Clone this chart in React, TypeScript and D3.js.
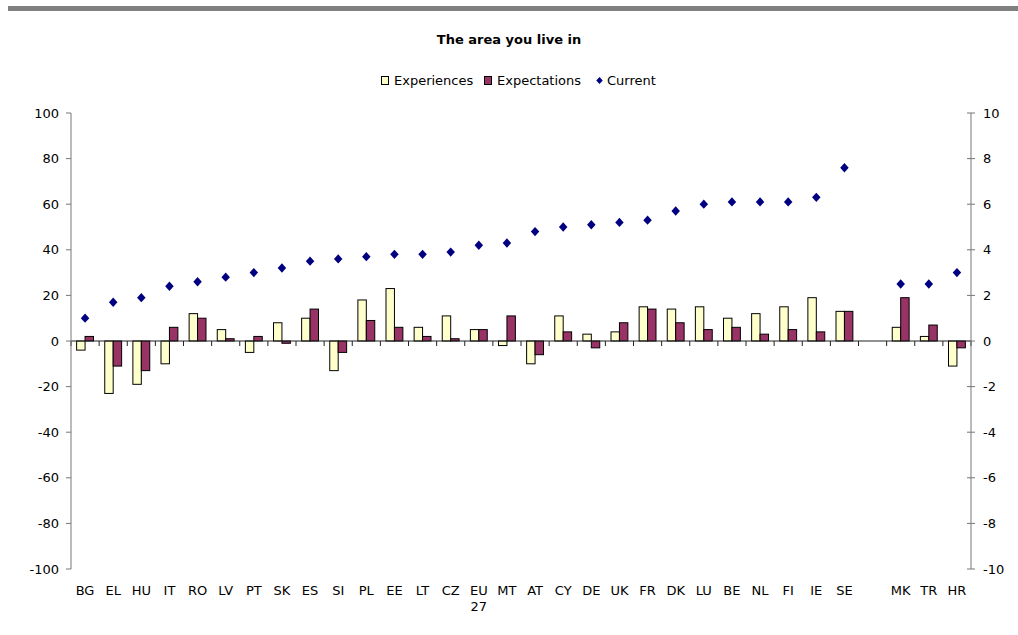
import React from "react";
import * as d3 from "d3";

const categories = ["BG","EL","HU","IT","RO","LV","PT","SK","ES","SI","PL","EE","LT","CZ","EU 27","MT","AT","CY","DE","UK","FR","DK","LU","BE","NL","FI","IE","SE","","MK","TR","HR"];
const experiences: (number | null)[] = [-4,-23,-19,-10,12,5,-5,8,10,-13,18,23,6,11,5,-2,-10,11,3,4,15,14,15,10,12,15,19,13,null,6,2,-11];
const expectations: (number | null)[] = [2,-11,-13,6,10,1,2,-1,14,-5,9,6,2,1,5,11,-6,4,-3,8,14,8,5,6,3,5,4,13,null,19,7,-3];
const current: (number | null)[] = [1.0,1.7,1.9,2.4,2.6,2.8,3.0,3.2,3.5,3.6,3.7,3.8,3.8,3.9,4.2,4.3,4.8,5.0,5.1,5.2,5.3,5.7,6.0,6.1,6.1,6.1,6.3,7.6,null,2.5,2.5,3.0];
const leftTicks = [100,80,60,40,20,0,-20,-40,-60,-80,-100];
const rightTicks = [10,8,6,4,2,0,-2,-4,-6,-8,-10];

const W = 1018, H = 635;
const left = 71, right = 971, top = 113, bottom = 569;
const FONT = "'DejaVu Sans', Verdana, sans-serif";

const wideDiamond = {
  draw(ctx: any, size: number) {
    const w = Math.sqrt(size) / 2;
    const h = w * 1.1;
    ctx.moveTo(0, -h);
    ctx.lineTo(w, 0);
    ctx.lineTo(0, h);
    ctx.lineTo(-w, 0);
    ctx.closePath();
  },
};

export default function App() {
  const x = d3.scaleBand<number>().domain(d3.range(categories.length)).range([left, right]).paddingInner(0).paddingOuter(0);
  const yL = d3.scaleLinear().domain([-100, 100]).range([bottom, top]);
  const yR = d3.scaleLinear().domain([-10, 10]).range([bottom, top]);
  const bw = x.bandwidth();
  const barW = bw * 0.3;
  const off = (bw - 2 * barW) / 2;
  const y0 = yL(0);
  const diamond = d3.symbol().type(wideDiamond as any).size(72)();
  const legDiamond = d3.symbol().type(wideDiamond as any).size(42)();

  return (
    <div style={{ position: "absolute", left: 0, top: 0 }}>
      <svg width={W} height={H} style={{ display: "block", background: "#fff" }}>
        <rect x={8} y={6} width={W - 8} height={5} fill="#808080" />
        <text x={509} y={44} textAnchor="middle" fontFamily={FONT} fontSize={13} fontWeight="bold" fill="#000">The area you live in</text>
        {/* legend */}
        <g fontFamily={FONT} fontSize={13} fill="#000">
          <rect x={381.5} y={76.5} width={7} height={8} fill="#FFFFCC" stroke="#000" />
          <text x={394} y={85}>Experiences</text>
          <rect x={484.5} y={76.5} width={7} height={8} fill="#993366" stroke="#000" />
          <text x={497} y={85}>Expectations</text>
          <path d={legDiamond || ""} transform="translate(599.5,80.5)" fill="#000080" />
          <text x={607} y={85}>Current</text>
        </g>
        {/* bars */}
        {categories.map((c, i) => {
          const e = experiences[i];
          const p = expectations[i];
          const bx = (x(i) as number) + off;
          return (
            <g key={"b" + i}>
              {e !== null && (
                <rect x={bx} y={Math.min(yL(e), y0)} width={barW} height={Math.abs(yL(e) - y0)} fill="#FFFFCC" stroke="#000" strokeWidth={1} />
              )}
              {p !== null && (
                <rect x={bx + barW} y={Math.min(yL(p), y0)} width={barW} height={Math.abs(yL(p) - y0)} fill="#993366" stroke="#000" strokeWidth={1} />
              )}
            </g>
          );
        })}
        {/* x axis */}
        <line x1={left} x2={right} y1={y0} y2={y0} stroke="#222" strokeWidth={1} />
        {categories.map((c, i) => (
          <line key={"xt" + i} x1={(x(i) as number) + bw} x2={(x(i) as number) + bw} y1={y0} y2={y0 + 5} stroke="#222" />
        ))}
        <line x1={left} x2={left} y1={y0} y2={y0 + 5} stroke="#222" />
        {/* left axis */}
        <line x1={left} x2={left} y1={top} y2={bottom} stroke="#777" />
        {leftTicks.map((t) => (
          <g key={"l" + t}>
            <line x1={left - 5} x2={left} y1={yL(t)} y2={yL(t)} stroke="#777" />
            <text x={59} y={yL(t) + 4.5} textAnchor="end" fontFamily={FONT} fontSize={13} fill="#000">{t}</text>
          </g>
        ))}
        {/* right axis */}
        <line x1={right} x2={right} y1={top} y2={bottom} stroke="#777" />
        {rightTicks.map((t) => (
          <g key={"r" + t}>
            <line x1={right - 4} x2={right + 4} y1={yR(t)} y2={yR(t)} stroke="#777" />
            <text x={983} y={yR(t) + 4.5} textAnchor="start" fontFamily={FONT} fontSize={13} fill="#000">{t}</text>
          </g>
        ))}
        {/* current markers */}
        {current.map((v, i) =>
          v === null ? null : (
            <path key={"d" + i} d={diamond || ""} transform={`translate(${(x(i) as number) + bw / 2},${yR(v)})`} fill="#000080" />
          )
        )}
        {/* category labels */}
        {categories.map((c, i) => {
          const parts = c.split(" ");
          const cx = (x(i) as number) + bw / 2;
          return (
            <text key={"c" + i} x={cx} y={595} textAnchor="middle" fontFamily={FONT} fontSize={13} fill="#000">
              {parts.map((pt, j) => (
                <tspan key={j} x={cx} dy={j === 0 ? 0 : 16}>{pt}</tspan>
              ))}
            </text>
          );
        })}
      </svg>
    </div>
  );
}
